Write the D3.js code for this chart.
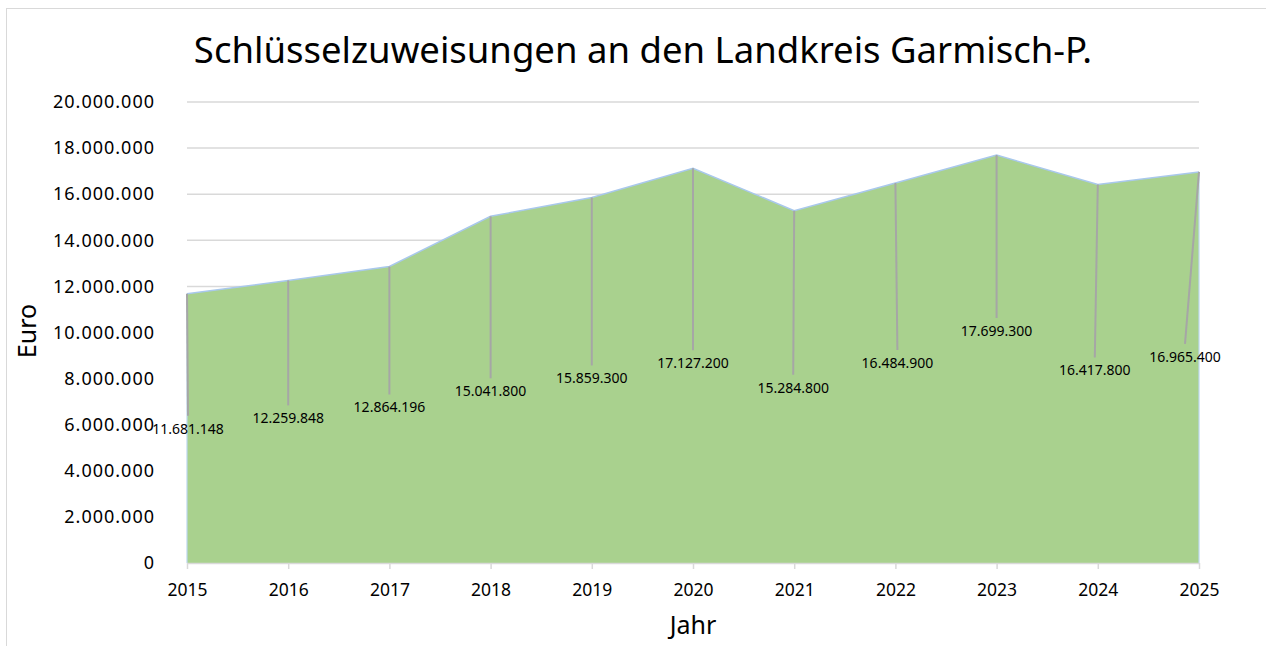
<!DOCTYPE html>
<html>
<head>
<meta charset="utf-8">
<script src="https://cdn.jsdelivr.net/npm/d3@7"></script>
<style>
  html, body { margin: 0; padding: 0; background: #fff; }
  svg { display: block; font-family: "Noto Sans", "Open Sans", sans-serif; }
</style>
</head>
<body>
<svg id="chart" width="1266" height="646"></svg>
<script>
// ---- data ----
const title = "Schlüsselzuweisungen an den Landkreis Garmisch-P.";
const xTitle = "Jahr";
const yTitle = "Euro";
const years = ["2015","2016","2017","2018","2019","2020","2021","2022","2023","2024","2025"];
const values = [11681148, 12259848, 12864196, 15041800, 15859300, 17127200, 15284800, 16484900, 17699300, 16417800, 16965400];
const yTicks = [0, 2000000, 4000000, 6000000, 8000000, 10000000, 12000000, 14000000, 16000000, 18000000, 20000000];
// label placement (pixel offsets of each data label from its point)
const labelDx = [1, 0, 0, 0, 0, 0, -1, 2, 0, -3, -14];
const labelDy = [135, 138, 141, 175, 181, 195, 177, 180, 176, 186, 185];

// ---- layout ----
const svg = d3.select("#chart");
const W = 1266, H = 646;
const plot = { left: 187, right: 1199, top: 102, bottom: 563 };

const x = d3.scalePoint().domain(years).range([plot.left, plot.right]);
const y = d3.scaleLinear().domain([0, 20000000]).range([plot.bottom, plot.top]);
const fmt = v => d3.format(",")(v).replace(/,/g, ".");

// outer frame
svg.append("rect").attr("x", 6.5).attr("y", 8.5).attr("width", W + 10).attr("height", H + 10)
  .attr("fill", "#fff").attr("stroke", "#D9D9D9").attr("stroke-width", 1);

// gridlines
svg.append("g").selectAll("line").data(yTicks.filter(d => d > 0)).join("line")
  .attr("x1", plot.left).attr("x2", plot.right)
  .attr("y1", d => y(d)).attr("y2", d => y(d))
  .attr("stroke", "#D9D9D9").attr("stroke-width", 1.5);

// area
const area = d3.area().x((d, i) => x(years[i])).y0(y(0)).y1(d => y(d));
svg.append("path").datum(values).attr("d", area).attr("fill", "#A9D18E");
const line = d3.line().x((d, i) => x(years[i])).y(d => y(d));
svg.append("path").datum(values).attr("d", line).attr("fill", "none")
  .attr("stroke", "#A9C8EC").attr("stroke-width", 1.5);
svg.append("line").attr("x1", x(years[0])).attr("x2", x(years[0]))
  .attr("y1", y(values[0])).attr("y2", y(0)).attr("stroke", "#BDD7EE").attr("stroke-width", 1.2);
svg.append("line").attr("x1", x(years[years.length-1])).attr("x2", x(years[years.length-1]))
  .attr("y1", y(values[values.length-1])).attr("y2", y(0)).attr("stroke", "#BDD7EE").attr("stroke-width", 1.2);

// x axis
const xAxis = d3.axisBottom(x).tickSize(6).tickPadding(15);
const gx = svg.append("g").attr("transform", `translate(0,${plot.bottom})`).call(xAxis);
gx.select(".domain").attr("stroke", "#D9D9D9").attr("stroke-width", 1.5).attr("d", `M${plot.left},0.5H${plot.right}`);
gx.selectAll(".tick line").attr("stroke", "#D9D9D9").attr("stroke-width", 1.5);
gx.selectAll(".tick text").attr("font-size", 17.5).attr("fill", "#000")
  .attr("font-family", "Noto Sans, Open Sans, sans-serif");

// y axis
const yAxis = d3.axisLeft(y).tickValues(yTicks).tickFormat(fmt).tickSize(0).tickPadding(32);
const gy = svg.append("g").attr("transform", `translate(${plot.left},0)`).call(yAxis);
gy.select(".domain").remove();
gy.selectAll(".tick text").attr("font-size", 18).attr("letter-spacing", 1).attr("fill", "#000")
  .attr("font-family", "Noto Sans, Open Sans, sans-serif");

// leader lines and data labels
const lab = svg.append("g");
values.forEach((v, i) => {
  const px = x(years[i]), py = y(v);
  const lx = px + labelDx[i], ly = py + labelDy[i];
  lab.append("line").attr("x1", px).attr("y1", py).attr("x2", lx).attr("y2", ly - 13)
    .attr("stroke", "#A6A6A6").attr("stroke-width", 2);
  lab.append("text").attr("x", lx).attr("y", ly).attr("dy", "0.35em")
    .attr("text-anchor", "middle").attr("font-size", 14).attr("fill", "#000")
    .text(fmt(v));
});

// titles
svg.append("text").attr("x", 643).attr("y", 63).attr("text-anchor", "middle")
  .attr("font-size", 36.5).attr("fill", "#000").text(title);
svg.append("text").attr("x", 693).attr("y", 634).attr("text-anchor", "middle")
  .attr("font-size", 25).attr("fill", "#000").text(xTitle);
svg.append("text").attr("transform", "translate(36,331) rotate(-90)").attr("text-anchor", "middle")
  .attr("font-size", 25).attr("fill", "#000").text(yTitle);
</script>
</body>
</html>
